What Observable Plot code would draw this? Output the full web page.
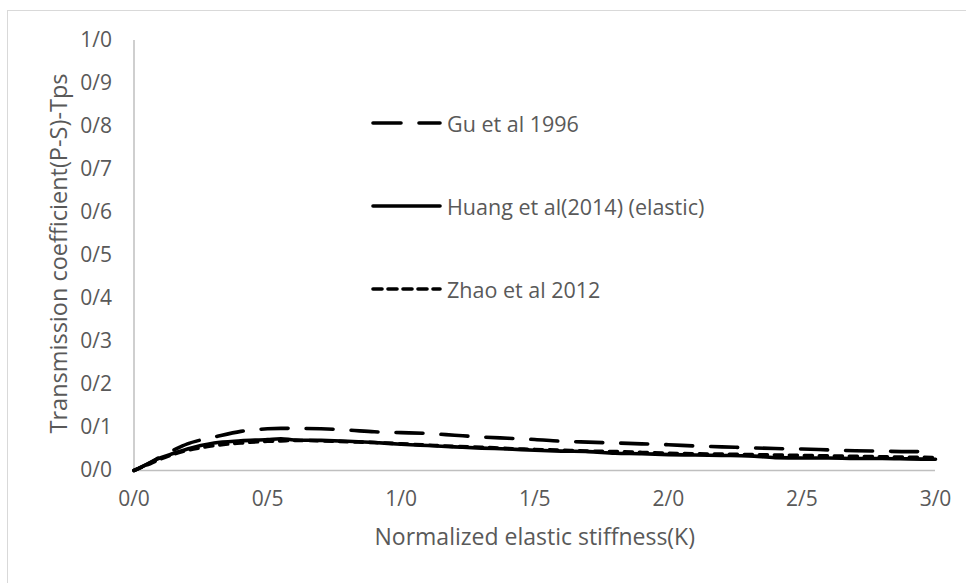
<!DOCTYPE html>
<html>
<head>
<meta charset="utf-8">
<script src="https://cdn.jsdelivr.net/npm/d3@7"></script>
<script src="https://cdn.jsdelivr.net/npm/@observablehq/plot@0.6"></script>
<style>
  html, body { margin: 0; padding: 0; background: #fff; }
  #wrap { position: relative; width: 966px; height: 583px; overflow: hidden; font-family: "Open Sans", sans-serif; }
  #border { position: absolute; left: 7px; top: 10px; width: 970px; height: 600px; border: 1.5px solid #d9d9d9; box-sizing: border-box; }
  #chart { position: absolute; left: 0; top: 0; }
  #legend { position: absolute; left: 0; top: 0; }
  .leg { position: absolute; display: flex; align-items: center; font-size: 21.5px; color: #595959; white-space: nowrap; }
  .leg svg { margin-right: 5px; }
</style>
</head>
<body>
<div id="wrap">
  <div id="border"></div>
  <div id="chart"></div>
  <div id="legend"></div>
</div>
<script>
// ---- Data ----
const K = [0, 0.05, 0.1, 0.15, 0.2, 0.25, 0.3, 0.4, 0.5, 0.55, 0.6, 0.7, 0.8, 0.9, 1.0, 1.1, 1.2, 1.3, 1.4, 1.5, 1.6, 1.7, 1.8, 1.9, 2.0, 2.1, 2.2, 2.3, 2.4, 2.5, 2.6, 2.7, 2.8, 2.9, 3.0];
const gu1996 = [0, 0.015, 0.032, 0.048, 0.062, 0.071, 0.078, 0.091, 0.097, 0.098, 0.098, 0.097, 0.094, 0.090, 0.088, 0.086, 0.082, 0.078, 0.075, 0.072, 0.068, 0.066, 0.064, 0.062, 0.060, 0.057, 0.055, 0.053, 0.051, 0.050, 0.048, 0.046, 0.045, 0.044, 0.044];
const huang2014 = [0, 0.015, 0.030, 0.040, 0.050, 0.058, 0.064, 0.069, 0.072, 0.074, 0.071, 0.070, 0.068, 0.065, 0.061, 0.058, 0.055, 0.052, 0.050, 0.047, 0.045, 0.044, 0.040, 0.039, 0.037, 0.036, 0.035, 0.034, 0.030, 0.029, 0.029, 0.028, 0.028, 0.027, 0.026];
const zhao2012 = [0, 0.013, 0.027, 0.038, 0.047, 0.053, 0.058, 0.064, 0.068, 0.069, 0.070, 0.069, 0.067, 0.065, 0.062, 0.059, 0.056, 0.054, 0.051, 0.049, 0.047, 0.045, 0.044, 0.042, 0.040, 0.039, 0.038, 0.037, 0.036, 0.035, 0.034, 0.033, 0.032, 0.031, 0.030];
const seriesNames = ["Gu et al 1996", "Huang et al(2014) (elastic)", "Zhao et al 2012"];
const xTicks = [0, 0.5, 1.0, 1.5, 2.0, 2.5, 3.0];
const yTicks = [0, 0.1, 0.2, 0.3, 0.4, 0.5, 0.6, 0.7, 0.8, 0.9, 1.0];
const xTitle = "Normalized elastic stiffness(K)";
const yTitle = "Transmission coefficient(P-S)-Tps";

// ---- Styles ----
const styles = [
  {dash: "27,18", width: 3.6},
  {dash: null, width: 3.6},
  {dash: "8,7", width: 3.6}
];
const allSeries = [gu1996, huang2014, zhao2012];
const table = allSeries.map(vals => K.map((k, i) => ({k, v: vals[i]})));
const fmt = d => d.toFixed(1).replace(".", "/");

const lineMarks = table.map((rows, i) => Plot.line(rows, {
  x: "k", y: "v", stroke: "black", strokeWidth: styles[i].width,
  strokeDasharray: styles[i].dash || undefined, strokeLinecap: "round",
  strokeLinejoin: "round", curve: "monotone-x"
}));

const plot = Plot.plot({
  width: 966,
  height: 583,
  marginLeft: 133.5,
  marginRight: 31,
  marginTop: 40,
  marginBottom: 113,
  style: {fontFamily: "Open Sans, sans-serif", fontSize: "21px", color: "#595959", background: "transparent"},
  x: {domain: [0, 3]},
  y: {domain: [0, 1]},
  marks: [
    Plot.axisX(xTicks, {tickSize: 0, tickPadding: 21, tickFormat: fmt, label: null, fill: "#595959", fontSize: 21}),
    Plot.axisY(yTicks, {tickSize: 0, tickPadding: 22, tickFormat: fmt, label: null, fill: "#595959", fontSize: 21}),
    Plot.ruleX([0], {stroke: "#bfbfbf", strokeWidth: 1.5}),
    Plot.ruleY([0], {stroke: "#bfbfbf", strokeWidth: 1.5}),
    ...lineMarks,
    Plot.text([xTitle], {frameAnchor: "bottom", dy: 67, fill: "#595959", fontSize: 23, lineAnchor: "middle"}),
    Plot.text([yTitle], {frameAnchor: "left", textAnchor: "middle", dx: -75, dy: -2, rotate: -90, fill: "#595959", fontSize: 23.5, lineAnchor: "middle"})
  ]
});
document.getElementById("chart").appendChild(plot);

// ---- Legend overlay ----
const legendTops = [123, 206, 289];
const leg = document.getElementById("legend");
seriesNames.forEach((name, i) => {
  const div = document.createElement("div");
  div.className = "leg";
  div.style.left = "371px";
  div.style.top = (legendTops[i] - 15) + "px";
  div.style.height = "30px";
  const w = 69;
  const dash = styles[i].dash ? `stroke-dasharray="${i === 0 ? '28,18' : '9,6'}"` : "";
  div.innerHTML = `<svg width="${w + 2}" height="8"><line x1="2" y1="4" x2="${w}" y2="4" stroke="black" stroke-width="3.6" stroke-linecap="round" ${dash}/></svg><span>${name}</span>`;
  leg.appendChild(div);
});
</script>
</body>
</html>
